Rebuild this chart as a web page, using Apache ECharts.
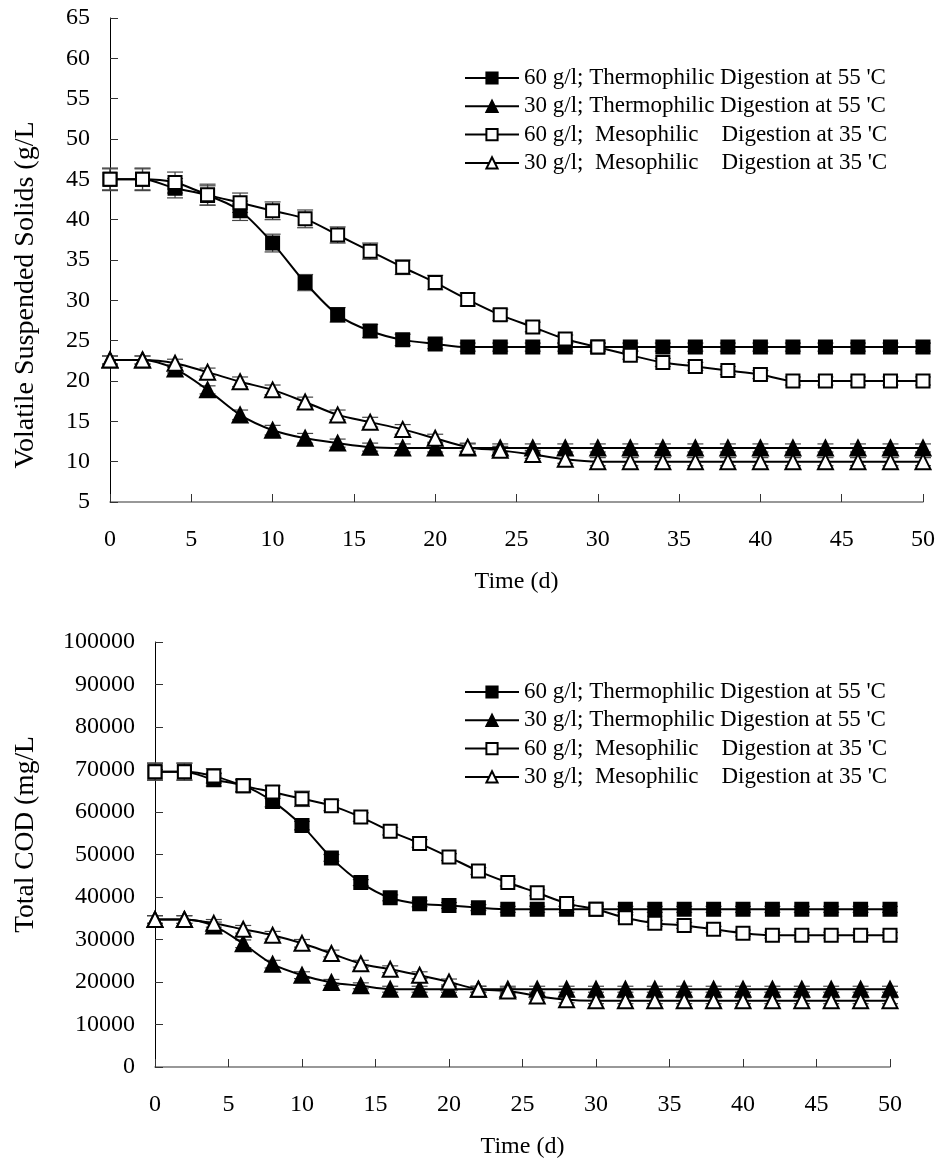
<!DOCTYPE html>
<html>
<head>
<meta charset="utf-8">
<script src="https://cdn.jsdelivr.net/npm/echarts@6/dist/echarts.min.js"></script>
<style>
  html, body { margin: 0; padding: 0; background: #fff; }
  #chart { width: 939px; height: 1160px; }
</style>
</head>
<body>
<div id="chart"></div>
<script>
// sampling days (d)
const days = [0, 2, 4, 6, 8, 10, 12, 14, 16, 18, 20, 22, 24, 26, 28, 30, 32, 34, 36, 38, 40, 42, 44, 46, 48, 50];

const seriesNames = [
  "60 g/l; Thermophilic Digestion at 55 'C",
  "30 g/l; Thermophilic Digestion at 55 'C",
  "60 g/l;  Mesophilic    Digestion at 35 'C",
  "30 g/l;  Mesophilic    Digestion at 35 'C",
];

// Volatile suspended solids (g/L)
const vssThermo60 = [45, 45, 43.9, 43, 41.1, 37.1, 32.2, 28.2, 26.2, 25.1, 24.6, 24.2, 24.2, 24.2, 24.2, 24.2, 24.2, 24.2, 24.2, 24.2, 24.2, 24.2, 24.2, 24.2, 24.2, 24.2];
const vssThermo30 = [22.6, 22.6, 21.5, 18.9, 15.8, 13.9, 12.9, 12.3, 11.8, 11.7, 11.7, 11.7, 11.7, 11.7, 11.7, 11.7, 11.7, 11.7, 11.7, 11.7, 11.7, 11.7, 11.7, 11.7, 11.7, 11.7];
const vssMeso60 = [45, 45, 44.6, 43.1, 42.1, 41.1, 40.1, 38.1, 36.1, 34.1, 32.2, 30.1, 28.2, 26.7, 25.2, 24.2, 23.2, 22.3, 21.8, 21.3, 20.8, 20, 20, 20, 20, 20];
const vssMeso30 = [22.6, 22.6, 22.2, 21.1, 19.9, 18.9, 17.4, 15.8, 14.9, 14.0, 12.9, 11.8, 11.4, 10.9, 10.3, 10, 10, 10, 10, 10, 10, 10, 10, 10, 10, 10];

// error bars (+/-) for VSS
const vssErrThermo60 = [1.3, 1.3, 1.2, 1.2, 1.2, 1.1, 1.0, 0.9, 0.8, 0.7, 0.6, 0.5, 0.5, 0.5, 0.5, 0.5, 0.5, 0.5, 0.5, 0.5, 0.5, 0.5, 0.5, 0.5, 0.5, 0.5];
const vssErrThermo30 = [0.5, 0.5, 0.5, 0.5, 0.6, 0.6, 0.6, 0.5, 0.5, 0.5, 0.5, 0.5, 0.5, 0.5, 0.5, 0.5, 0.5, 0.5, 0.5, 0.5, 0.5, 0.5, 0.5, 0.5, 0.5, 0.5];
const vssErrMeso60 = [1.4, 1.4, 1.3, 1.3, 1.2, 1.1, 1.1, 1.0, 1.0, 0.9, 0.9, 0.8, 0.7, 0.6, 0.5, 0.5, 0.5, 0.5, 0.5, 0.5, 0.5, 0.5, 0.5, 0.5, 0.5, 0.5];
const vssErrMeso30 = [0.5, 0.5, 0.5, 0.5, 0.6, 0.6, 0.6, 0.6, 0.6, 0.6, 0.5, 0.5, 0.5, 0.5, 0.5, 0.5, 0.5, 0.5, 0.5, 0.5, 0.5, 0.5, 0.5, 0.5, 0.5, 0.5];

// Total COD (mg/L)
const codThermo60 = [69500, 69500, 67600, 66200, 62500, 56800, 49200, 43400, 39800, 38400, 38000, 37500, 37100, 37100, 37100, 37100, 37100, 37100, 37100, 37100, 37100, 37100, 37100, 37100, 37100, 37100];
const codThermo30 = [34700, 34700, 33200, 29000, 24200, 21600, 19900, 19100, 18300, 18300, 18300, 18300, 18300, 18300, 18300, 18300, 18300, 18300, 18300, 18300, 18300, 18300, 18300, 18300, 18300, 18300];
const codMeso60 = [69500, 69500, 68500, 66200, 64700, 63100, 61500, 58800, 55500, 52600, 49400, 46100, 43400, 41000, 38500, 37100, 35100, 33800, 33300, 32400, 31500, 31000, 31000, 31000, 31000, 31000];
const codMeso30 = [34700, 34700, 33800, 32400, 31000, 29100, 26700, 24300, 23000, 21600, 20000, 18300, 17900, 16700, 15800, 15600, 15600, 15600, 15600, 15600, 15600, 15600, 15600, 15600, 15600, 15600];

// error bars (+/-) for COD
const codErrThermo60 = [2000, 2000, 1500, 1400, 1300, 1000, 800, 700, 700, 700, 700, 700, 700, 700, 700, 700, 700, 700, 700, 700, 700, 700, 700, 700, 700, 700];
const codErrThermo30 = [900, 900, 900, 900, 900, 800, 700, 700, 700, 700, 700, 700, 700, 700, 700, 700, 700, 700, 700, 700, 700, 700, 700, 700, 700, 700];
const codErrMeso60 = [2000, 2000, 1700, 1500, 1500, 1800, 1200, 1000, 900, 900, 800, 800, 800, 700, 700, 700, 700, 700, 700, 700, 700, 700, 700, 700, 700, 700];
const codErrMeso30 = [900, 900, 900, 900, 900, 900, 800, 800, 800, 800, 700, 700, 700, 700, 700, 700, 700, 700, 700, 700, 700, 700, 700, 700, 700, 700];

const FONT = "'Liberation Serif', 'Times New Roman', serif";

const styles = [
  { symbol: "rect", fill: "#000" },
  { symbol: "triangle", fill: "#000" },
  { symbol: "rect", fill: "#fff" },
  { symbol: "triangle", fill: "#fff" },
];

function lineSeries(i, values, axisIdx) {
  return {
    name: seriesNames[i],
    type: "line",
    xAxisIndex: axisIdx,
    yAxisIndex: axisIdx,
    data: days.map((d, k) => [d, values[k]]),
    smooth: 0.3,
    symbol: styles[i].symbol,
    symbolSize: styles[i].symbol === "rect" ? 13 : 15,
    lineStyle: { color: "#000", width: 2 },
    itemStyle: { color: styles[i].fill, borderColor: "#000", borderWidth: 2 },
    z: 3,
    animation: false,
  };
}

function errorSeries(values, errs, axisIdx) {
  return {
    type: "custom",
    xAxisIndex: axisIdx,
    yAxisIndex: axisIdx,
    data: days.map((d, k) => [d, values[k] - errs[k], values[k] + errs[k]]),
    encode: { x: 0, y: [1, 2] },
    renderItem: function (params, api) {
      const x = api.value(0);
      const lo = api.coord([x, api.value(1)]);
      const hi = api.coord([x, api.value(2)]);
      const w = 8;
      const st = { stroke: "#444", lineWidth: 1.2 };
      return {
        type: "group",
        children: [
          { type: "line", shape: { x1: lo[0], y1: lo[1], x2: hi[0], y2: hi[1] }, style: st },
          { type: "line", shape: { x1: lo[0] - w, y1: lo[1], x2: lo[0] + w, y2: lo[1] }, style: st },
          { type: "line", shape: { x1: hi[0] - w, y1: hi[1], x2: hi[0] + w, y2: hi[1] }, style: st },
        ],
      };
    },
    z: 2,
    silent: true,
    animation: false,
  };
}

function xAxisCfg(idx) {
  return {
    type: "value",
    gridIndex: idx,
    min: 0,
    max: 50,
    interval: 5,
    name: "Time (d)",
    nameLocation: "middle",
    nameGap: 68,
    nameTextStyle: { fontFamily: FONT, fontSize: 24, color: "#000" },
    axisLine: { onZero: false, lineStyle: { color: "#777", width: 1.5 } },
    axisTick: { inside: true, length: 8, lineStyle: { color: "#333" } },
    axisLabel: { margin: 26, fontFamily: FONT, fontSize: 24, color: "#000" },
    splitLine: { show: false },
  };
}

function legendCfg(top) {
  return {
    data: seriesNames,
    orient: "vertical",
    left: 459,
    top: top,
    itemWidth: 54,
    itemHeight: 14,
    itemGap: 0.3,
    textStyle: { fontFamily: FONT, fontSize: 23, color: "#000", lineHeight: 28 },
  };
}

const option = {
  backgroundColor: "#fff",
  animation: false,
  grid: [
    { left: 110, top: 18, right: 16, height: 484 },
    { left: 155, top: 642, right: 49, height: 426 },
  ],
  legend: [legendCfg(59), legendCfg(673)],
  xAxis: [xAxisCfg(0), xAxisCfg(1)],
  yAxis: [
    {
      type: "value",
      gridIndex: 0,
      min: 5,
      max: 65,
      interval: 5,
      name: "Volatile Suspended Solids (g/L",
      nameLocation: "middle",
      nameGap: 70,
      nameTextStyle: { fontFamily: FONT, fontSize: 28, color: "#000", padding: [0, 70, 0, 0] },
      axisLine: { show: true, lineStyle: { color: "#000", width: 1 } },
      axisTick: { inside: true, length: 8, lineStyle: { color: "#333" } },
      axisLabel: { margin: 20, fontFamily: FONT, fontSize: 24, color: "#000" },
      splitLine: { show: false },
    },
    {
      type: "value",
      gridIndex: 1,
      min: 0,
      max: 100000,
      interval: 10000,
      name: "Total COD (mg/L",
      nameLocation: "middle",
      nameGap: 115,
      nameTextStyle: { fontFamily: FONT, fontSize: 27.5, color: "#000", padding: [0, 0, 0, 40] },
      axisLine: { show: true, lineStyle: { color: "#000", width: 1 } },
      axisTick: { inside: true, length: 8, lineStyle: { color: "#333" } },
      axisLabel: {
        margin: 20,
        fontFamily: FONT,
        fontSize: 24,
        color: "#000",
        formatter: function (v) {
          return String(v);
        },
      },
      splitLine: { show: false },
    },
  ],
  series: [
    errorSeries(vssThermo60, vssErrThermo60, 0),
    errorSeries(vssThermo30, vssErrThermo30, 0),
    errorSeries(vssMeso60, vssErrMeso60, 0),
    errorSeries(vssMeso30, vssErrMeso30, 0),
    lineSeries(0, vssThermo60, 0),
    lineSeries(1, vssThermo30, 0),
    lineSeries(2, vssMeso60, 0),
    lineSeries(3, vssMeso30, 0),
    errorSeries(codThermo60, codErrThermo60, 1),
    errorSeries(codThermo30, codErrThermo30, 1),
    errorSeries(codMeso60, codErrMeso60, 1),
    errorSeries(codMeso30, codErrMeso30, 1),
    lineSeries(0, codThermo60, 1),
    lineSeries(1, codThermo30, 1),
    lineSeries(2, codMeso60, 1),
    lineSeries(3, codMeso30, 1),
  ],
};

let myChart = echarts.init(document.getElementById("chart"));
myChart.setOption(option);
window.addEventListener("resize", function () {
  myChart.resize();
});
</script>
</body>
</html>
